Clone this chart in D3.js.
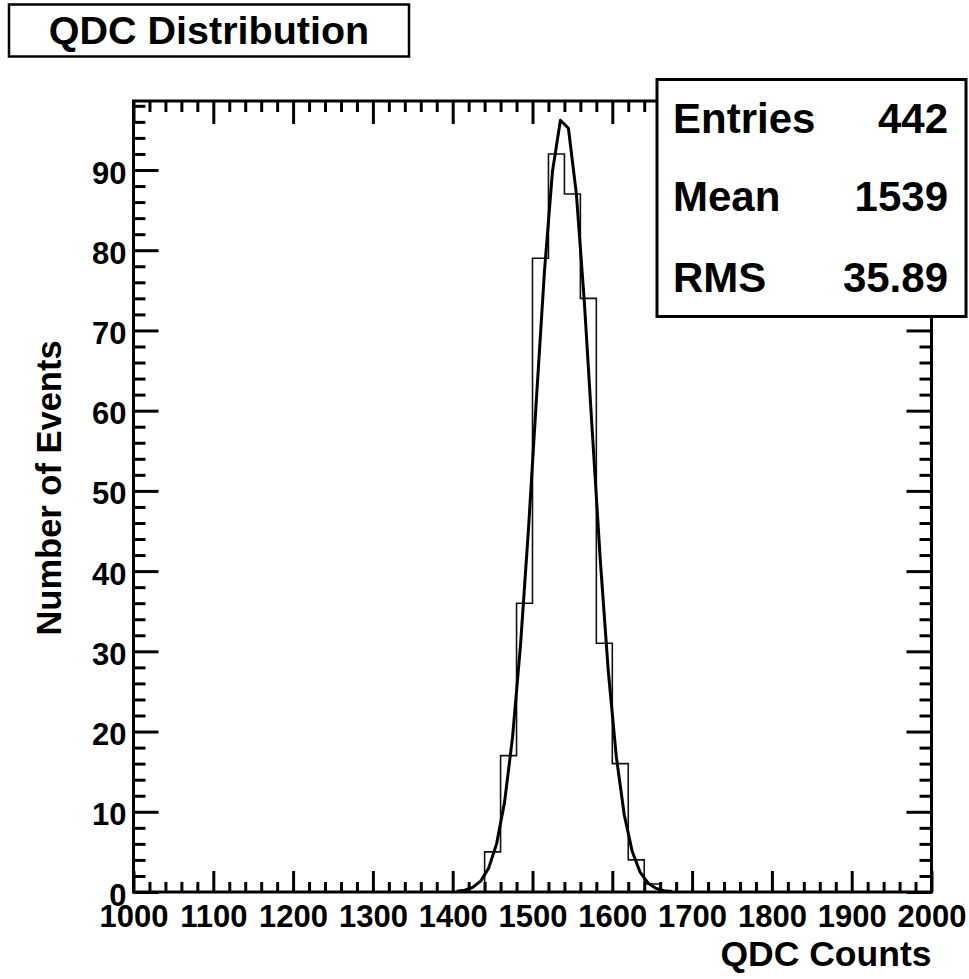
<!DOCTYPE html>
<html>
<head>
<meta charset="utf-8">
<script src="https://cdn.jsdelivr.net/npm/d3@7"></script>
<style>
  html, body { margin: 0; padding: 0; background: #fff; }
  svg text { font-family: "Liberation Sans", Arial, Helvetica, sans-serif; font-weight: bold; fill: #000; }
</style>
</head>
<body>
<svg id="chart" width="969" height="979"></svg>
<script>
// ---- data ----
const binWidth = 20;
const binLow = [1440, 1460, 1480, 1500, 1520, 1540, 1560, 1580, 1600, 1620, 1640];
const binCounts = [5, 17, 36, 79, 92, 87, 74, 31, 16, 4, 1];
const fitX = [1405, 1415, 1425, 1435, 1445, 1455, 1465, 1475, 1485, 1495, 1505, 1515, 1525, 1535,
              1545, 1555, 1565, 1575, 1585, 1595, 1605, 1615, 1625, 1635, 1645, 1655, 1665, 1675];
const fitY = [0.08, 0.22, 0.57, 1.36, 2.97, 6.0, 11.2, 19.3, 30.8, 45.3, 61.6, 77.4, 89.8, 96.2,
              95.2, 87.0, 73.5, 57.3, 41.3, 27.5, 16.9, 9.6, 5.04, 2.44, 1.09, 0.45, 0.17, 0.06];
const xMajorTicks = [1000, 1100, 1200, 1300, 1400, 1500, 1600, 1700, 1800, 1900, 2000];
const yMajorTicks = [0, 10, 20, 30, 40, 50, 60, 70, 80, 90];
const statLabels = ["Entries", "Mean", "RMS"];
const statValues = ["442", "1539", "35.89"];
const titleText = "QDC Distribution";
const xTitle = "QDC Counts";
const yTitle = "Number of Events";

// ---- layout ----
const svg = d3.select("#chart");
const L = 133.5, R = 931.5, T = 101, B = 892;
const x = d3.scaleLinear().domain([1000, 2000]).range([L, R]);
const y = d3.scaleLinear().domain([0, 98.6]).range([B, T]);

const xMinor = d3.range(1000, 2001, 20).filter(v => v % 100 !== 0);
const yMinor = d3.range(0, 98.6, 2).filter(v => v % 10 !== 0);

function styleAxis(g) {
  g.select(".domain").remove();
  g.selectAll(".tick line").attr("stroke", "#000").attr("stroke-width", 3);
}

// histogram step outline (zero outside the filled bins)
const pts = [[1000, 0]];
binLow.forEach((lo, i) => {
  pts.push([lo, 0 + (i === 0 ? 0 : binCounts[i - 1])]);
  pts.push([lo, binCounts[i]]);
});
const lastHi = binLow[binLow.length - 1] + binWidth;
pts.push([lastHi, binCounts[binCounts.length - 1]]);
pts.push([lastHi, 0]);
pts.push([2000, 0]);
svg.append("path")
  .attr("d", d3.line().x(d => x(d[0])).y(d => y(d[1]))(pts))
  .attr("fill", "none").attr("stroke", "#111").attr("stroke-width", 1.6);

// fit curve
svg.append("path")
  .attr("d", d3.line().x((d, i) => x(fitX[i])).y((d, i) => y(fitY[i]))(fitY))
  .attr("fill", "none").attr("stroke", "#000").attr("stroke-width", 3)
  .attr("stroke-linejoin", "round");

// bottom axis
svg.append("g").attr("transform", `translate(0,${B})`)
  .call(d3.axisBottom(x).tickValues(xMinor).tickSizeInner(-10).tickSizeOuter(0).tickFormat(""))
  .call(styleAxis);
const gx = svg.append("g").attr("transform", `translate(0,${B})`)
  .call(d3.axisBottom(x).tickValues(xMajorTicks).tickSizeInner(-21).tickSizeOuter(0).tickFormat(d3.format("d")))
  .call(styleAxis);
gx.selectAll(".tick text").attr("y", 35).attr("dy", 0)
  .style("font-size", "31px").style("font-family", null).attr("font-family", null);

// top axis
svg.append("g").attr("transform", `translate(0,${T})`)
  .call(d3.axisTop(x).tickValues(xMinor).tickSizeInner(-11).tickSizeOuter(0).tickFormat(""))
  .call(styleAxis);
svg.append("g").attr("transform", `translate(0,${T})`)
  .call(d3.axisTop(x).tickValues(xMajorTicks).tickSizeInner(-23).tickSizeOuter(0).tickFormat(""))
  .call(styleAxis);

// left axis
svg.append("g").attr("transform", `translate(${L},0)`)
  .call(d3.axisLeft(y).tickValues(yMinor).tickSizeInner(-12).tickSizeOuter(0).tickFormat(""))
  .call(styleAxis);
const gy = svg.append("g").attr("transform", `translate(${L},0)`)
  .call(d3.axisLeft(y).tickValues(yMajorTicks).tickSizeInner(-25).tickSizeOuter(0).tickFormat(d3.format("d")))
  .call(styleAxis);
gy.selectAll(".tick text").attr("x", -7).attr("dy", "0.42em")
  .style("font-size", "31px");

// right axis
svg.append("g").attr("transform", `translate(${R},0)`)
  .call(d3.axisRight(y).tickValues(yMinor).tickSizeInner(-12).tickSizeOuter(0).tickFormat(""))
  .call(styleAxis);
svg.append("g").attr("transform", `translate(${R},0)`)
  .call(d3.axisRight(y).tickValues(yMajorTicks).tickSizeInner(-25).tickSizeOuter(0).tickFormat(""))
  .call(styleAxis);

// remove d3's default font settings so CSS applies
svg.selectAll("g").attr("font-family", null).attr("font-size", null);

// frame
svg.append("rect").attr("x", L).attr("y", T).attr("width", R - L).attr("height", B - T)
  .attr("fill", "none").attr("stroke", "#000").attr("stroke-width", 3);

// axis titles
svg.append("text").attr("x", R).attr("y", 966).attr("text-anchor", "end")
  .style("font-size", "35.5px").text(xTitle);
svg.append("text").attr("transform", "translate(61,488) rotate(-90)").attr("text-anchor", "middle")
  .style("font-size", "34.5px").text(yTitle);

// title box
svg.append("rect").attr("x", 9).attr("y", 4.5).attr("width", 400).attr("height", 52)
  .attr("fill", "#fff").attr("stroke", "#000").attr("stroke-width", 2.5);
svg.append("text").attr("x", 209).attr("y", 43.5).attr("text-anchor", "middle")
  .style("font-size", "39.5px").text(titleText);

// stats box
svg.append("rect").attr("x", 657).attr("y", 79.5).attr("width", 309).attr("height", 237)
  .attr("fill", "#fff").attr("stroke", "#000").attr("stroke-width", 3);
const rowY = [133, 211, 292];
statLabels.forEach((s, i) => {
  svg.append("text").attr("x", 673).attr("y", rowY[i]).style("font-size", "42px").text(s);
  svg.append("text").attr("x", 948).attr("y", rowY[i]).attr("text-anchor", "end")
    .style("font-size", "42px").text(statValues[i]);
});
</script>
</body>
</html>
